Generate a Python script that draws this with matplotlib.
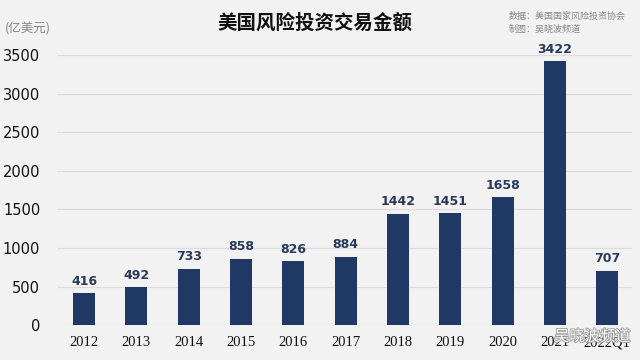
import matplotlib
matplotlib.use("Agg")
import matplotlib.pyplot as plt
import matplotlib.patheffects as pe

categories = ["2012", "2013", "2014", "2015", "2016", "2017", "2018", "2019", "2020", "2021", "2022Q1"]
values = [416, 492, 733, 858, 826, 884, 1442, 1451, 1658, 3422, 707]
yticks = [0, 500, 1000, 1500, 2000, 2500, 3000, 3500]

plt.rcParams['font.family'] = ['Noto Sans CJK SC', 'DejaVu Sans']
bg = "#f2f2f2"
bar_color = "#1f3864"

fig = plt.figure(figsize=(6.4, 3.6), dpi=100, facecolor=bg)
ax = fig.add_axes([0.089, 0.097, 0.899, 0.75], facecolor=bg)

x = list(range(len(categories)))
ax.bar(x, values, width=0.42, color=bar_color, zorder=3)
for xi, v in zip(x, values):
    ax.text(xi, v + 70, str(v), ha="center", va="bottom", fontsize=9, fontweight="bold",
            color="#2a3a5c", family=["DejaVu Sans"], clip_on=False)

ax.set_xlim(-0.52, 10.48)
ax.set_ylim(0, 3500)
ax.set_yticks(yticks)
ax.set_yticklabels([str(t) for t in yticks], fontsize=10.5, color="#111111", family=["DejaVu Sans"])
ax.set_xticks(x)
ax.set_xticklabels(categories, fontsize=10.5, color="#111111", family=["Liberation Serif"])
ax.grid(axis="y", color="#dcdcdc", linewidth=0.8, zorder=0)
ax.tick_params(axis="both", length=0)
ax.tick_params(axis="y", pad=12)
ax.tick_params(axis="x", pad=8)
for s in ax.spines.values():
    s.set_visible(False)

fig.text(0.492, 0.935, "美国风险投资交易金额", ha="center", va="center", fontsize=14,
         fontweight="bold", color="#111111")
fig.text(0.008, 0.92, "(亿美元)", ha="left", va="center", fontsize=9, color="#888888")
fig.text(0.795, 0.955, "数据：美国国家风险投资协会", ha="left", va="center", fontsize=6.5, color="#888888")
fig.text(0.795, 0.918, "制图：吴晓波频道", ha="left", va="center", fontsize=6.5, color="#888888")
fig.text(0.985, 0.065, "吴晓波频道", ha="right", va="center", fontsize=11, color="white",
         path_effects=[pe.withStroke(linewidth=1.2, foreground="#999999")])

fig.savefig("out.png", dpi=100, facecolor=bg)
